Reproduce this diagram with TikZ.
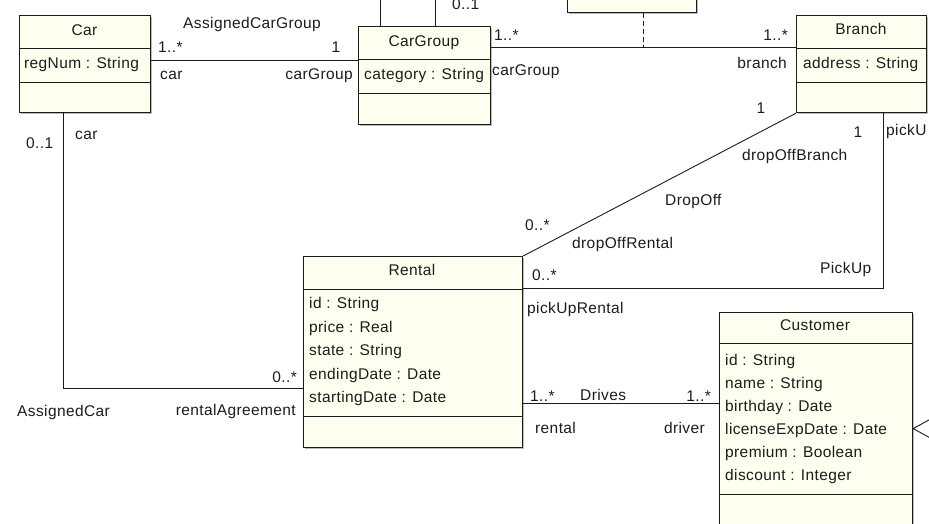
\documentclass[tikz,border=0pt]{standalone}
\usepackage{fontspec}
\setmainfont[LetterSpace=2.5]{Liberation Sans}
\usetikzlibrary{shadows}
\definecolor{classfill}{RGB}{255,255,240}
\definecolor{ink}{RGB}{28,28,28}

\begin{document}
\begin{tikzpicture}[x=1pt,y=-1pt,
  umlclass/.style={draw=ink, line width=1.2pt, fill=classfill, inner sep=0pt,
    drop shadow={shadow xshift=1.6pt, shadow yshift=-1.6pt, fill=black!45, opacity=0.6}},
  compart/.style={draw=ink, line width=1pt},
  assoc/.style={draw=ink, line width=0.9pt},
  dashedassoc/.style={draw=ink, line width=1.2pt, dash pattern=on 5pt off 3pt},
  lbl/.style={font=\fontsize{15.5}{18}\selectfont, text=ink, inner sep=0pt},
]
\useasboundingbox (0,0) rectangle (929,523);
\clip (0,0) rectangle (929,523);

% ---------- classes ----------
\node[umlclass, anchor=north west, minimum width=131pt, minimum height=97pt] (car) at (19,15) {};
\node[umlclass, anchor=north west, minimum width=132pt, minimum height=98pt] (cg) at (358,26) {};
\node[umlclass, anchor=north west, minimum width=130pt, minimum height=97pt] (br) at (796,15) {};
\node[umlclass, anchor=north west, minimum width=219pt, minimum height=191pt] (rental) at (303,256) {};
\node[umlclass, anchor=north west, minimum width=193pt, minimum height=228pt] (cust) at (719,312) {};
\node[umlclass, anchor=south west, minimum width=129pt, minimum height=60pt] (tb) at (567,13) {};

% compartment separators
\draw[compart] ([yshift=-33pt]car.north west) -- ([yshift=-33pt]car.north east);
\draw[compart] ([yshift=-67pt]car.north west) -- ([yshift=-67pt]car.north east);
\draw[compart] ([yshift=-33pt]cg.north west) -- ([yshift=-33pt]cg.north east);
\draw[compart] ([yshift=-67pt]cg.north west) -- ([yshift=-67pt]cg.north east);
\draw[compart] ([yshift=-33pt]br.north west) -- ([yshift=-33pt]br.north east);
\draw[compart] ([yshift=-67pt]br.north west) -- ([yshift=-67pt]br.north east);
\draw[compart] ([yshift=-33pt]rental.north west) -- ([yshift=-33pt]rental.north east);
\draw[compart] ([yshift=-160pt]rental.north west) -- ([yshift=-160pt]rental.north east);
\draw[compart] ([yshift=-31pt]cust.north west) -- ([yshift=-31pt]cust.north east);
\draw[compart] ([yshift=-182pt]cust.north west) -- ([yshift=-182pt]cust.north east);

% class contents
\node[lbl, anchor=base] (carT) at (84.5,35) {Car};
\node[lbl, anchor=base west] (carA) at (24,68) {regNum : String};

\node[lbl, anchor=base] (cgT) at (424,46) {CarGroup};
\node[lbl, anchor=base west] (cgA) at (364,79) {category : String};

\node[lbl, anchor=base] (brT) at (861,34) {Branch};
\node[lbl, anchor=base west] (brA) at (803,68) {address : String};

\node[lbl, anchor=base] (reT) at (412,275) {Rental};
\node[lbl, anchor=base west] (reA1) at (309,308) {id : String};
\node[lbl, anchor=base west] (reA2) at (309,332) {price : Real};
\node[lbl, anchor=base west] (reA3) at (309,355) {state : String};
\node[lbl, anchor=base west] (reA4) at (309,379) {endingDate : Date};
\node[lbl, anchor=base west] (reA5) at (309,402) {startingDate : Date};

\node[lbl, anchor=base] (cuT) at (815,330) {Customer};
\node[lbl, anchor=base west] (cuA1) at (725,365) {id : String};
\node[lbl, anchor=base west] (cuA2) at (725,388) {name : String};
\node[lbl, anchor=base west] (cuA3) at (725,411) {birthday : Date};
\node[lbl, anchor=base west] (cuA4) at (725,434) {licenseExpDate : Date};
\node[lbl, anchor=base west] (cuA5) at (725,457) {premium : Boolean};
\node[lbl, anchor=base west] (cuA6) at (725,480) {discount : Integer};

% ---------- associations ----------
\coordinate (cgbr) at ([yshift=16.5pt]br.west);
\coordinate (tbs) at ([xshift=11.5pt]tb.south);
\coordinate (drv) at ([yshift=-51.5pt]rental.east);

\draw[assoc] ([yshift=3.5pt]car.east) -- ([yshift=15pt]cg.west);
\draw[assoc] ([yshift=28pt]cg.east) -- (cgbr);
\draw[dashedassoc] (tbs) -- (tbs |- cgbr);
\draw[assoc] ([xshift=-44pt]cg.north) -- ++(0,-40);
\draw[assoc] ([xshift=11pt]cg.north) -- ++(0,-40);
\draw[assoc] ([xshift=-21.5pt]car.south) |- ([yshift=-36.5pt]rental.west);
\draw[assoc] (br.south west) -- (rental.north east);
\draw[assoc] ([xshift=22pt]br.south) |- ([yshift=63.5pt]rental.east);
\draw[assoc] (drv) -- (drv -| cust.west);

% generalization arrow into Customer
\coordinate (gtip) at ([yshift=-2pt]cust.east);
\draw[assoc, fill=white] (gtip) -- ++(20,-11) -- ++(0,22) -- cycle;
\draw[assoc] ([xshift=20pt]gtip) -- ++(30,0);

% ---------- association labels ----------
\node[lbl, anchor=base west] (l1) at (183,28) {AssignedCarGroup};
\node[lbl, anchor=base west] (l2) at (158,52) {1..*};
\node[lbl, anchor=base west] (l3) at (160,79) {car};
\node[lbl, anchor=base] (l4) at (336,52) {1};
\node[lbl, anchor=base east] (l5) at (353,79) {carGroup};

\node[lbl, anchor=base west] (l6) at (494,40) {1..*};
\node[lbl, anchor=base west] (l7) at (492,75) {carGroup};
\node[lbl, anchor=base east] (l8) at (788,40) {1..*};
\node[lbl, anchor=base east] (l9) at (787,68) {branch};
\node[lbl, anchor=base west] (l10) at (452,9) {0..1};

\node[lbl, anchor=base] (l11) at (761,113) {1};
\node[lbl, anchor=base] (l12) at (858,137) {1};
\node[lbl, anchor=base west] (l13) at (886,135) {pickU};
\node[lbl, anchor=base west] (l14) at (742,160) {dropOffBranch};
\node[lbl, anchor=base west] (l15) at (665,205) {DropOff};
\node[lbl, anchor=base west] (l16) at (525,230) {0..*};
\node[lbl, anchor=base west] (l17) at (572,248) {dropOffRental};
\node[lbl, anchor=base west] (l18) at (532,280) {0..*};
\node[lbl, anchor=base west] (l19) at (820,273) {PickUp};
\node[lbl, anchor=base west] (l20) at (527,313) {pickUpRental};

\node[lbl, anchor=base west] (l21) at (75,139) {car};
\node[lbl, anchor=base west] (l22) at (26,148) {0..1};
\node[lbl, anchor=base east] (l23) at (297,382) {0..*};
\node[lbl, anchor=base west] (l24) at (17,416) {AssignedCar};
\node[lbl, anchor=base east] (l25) at (296,415) {rentalAgreement};

\node[lbl, anchor=base west] (l26) at (530,401) {1..*};
\node[lbl, anchor=base west] (l27) at (580,400) {Drives};
\node[lbl, anchor=base east] (l28) at (711,401) {1..*};
\node[lbl, anchor=base west] (l29) at (535,433) {rental};
\node[lbl, anchor=base east] (l30) at (705,433) {driver};
\end{tikzpicture}
\end{document}
